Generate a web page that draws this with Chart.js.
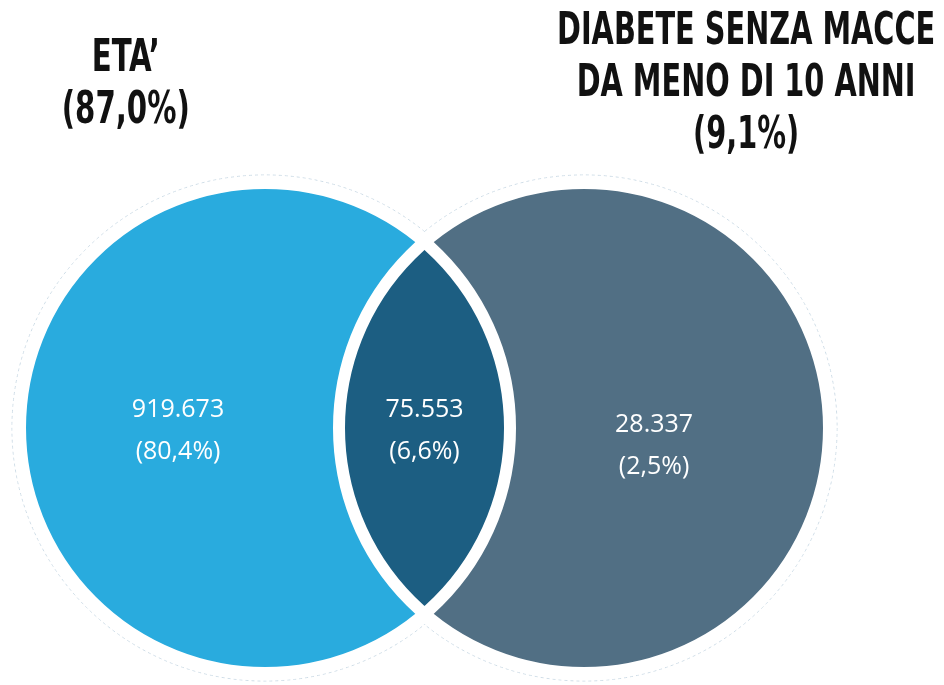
<!DOCTYPE html>
<html>
<head>
<meta charset="utf-8">
<script src="https://cdn.jsdelivr.net/npm/chart.js@4.4.1/dist/chart.umd.min.js"></script>
<style>
  html, body { margin:0; padding:0; background:#fff; }
  #wrap { position:relative; width:944px; height:685px; overflow:hidden; }
  #venn { position:absolute; left:0; top:0; }
  .set-title {
    position:absolute; text-align:center; color:#111;
    font-family:'Liberation Sans Narrow','DejaVu Sans Condensed',sans-serif;
    font-weight:700; font-size:44px; line-height:52px; white-space:nowrap;
    transform-origin:center top;
  }
</style>
</head>
<body>
<div id="wrap">
  <canvas id="venn" width="944" height="685"></canvas>
  <div class="set-title" id="title-0"></div>
  <div class="set-title" id="title-1"></div>
</div>
<script>
// Venn: ETA' vs DIABETE SENZA MACCE DA MENO DI 10 ANNI
const setNames = ["ETA’", "DIABETE SENZA MACCE\nDA MENO DI 10 ANNI"];
const setShares = [87.0, 9.1];
const regionNames = ["solo ETA’", "entrambi", "solo DIABETE"];
const regionCounts = [919673, 75553, 28337];
const regionShares = [80.4, 6.6, 2.5];

// layout (data units, radius = 1)
const CENTERS = [-0.651, 0.651];
const HALO = 1.03;
const OUTLINE = 1.033;
const LABEL_POS = [{x:-1.006, y:-0.012}, {x:0, y:-0.012}, {x:0.937, y:-0.073}];
const SET_COLORS = ['#29abde', '#516f84'];
const LENS_COLOR = '#1c5e82';

const fmtCount = v => v.toLocaleString('it-IT');
const fmtPct = v => '(' + v.toFixed(1).replace('.', ',') + '%)';

function unitPx(chart) {
  const s = chart.scales && chart.scales.x;
  if (!s) return 0;
  const r = s.getPixelForValue(1) - s.getPixelForValue(0);
  return isFinite(r) && r > 0 ? r : 0;
}

const vennPlugin = {
  id: 'venn',
  beforeDatasetsDraw(chart) {
    const {ctx, scales:{x, y}} = chart;
    const u = unitPx(chart);
    ctx.save();
    ctx.strokeStyle = '#cfdde7';
    ctx.lineWidth = 1;
    ctx.setLineDash([3, 3]);
    CENTERS.forEach(c => {
      ctx.beginPath();
      ctx.arc(x.getPixelForValue(c), y.getPixelForValue(0), OUTLINE * u, 0, Math.PI * 2);
      ctx.stroke();
    });
    ctx.setLineDash([]);
    ctx.fillStyle = '#ffffff';
    CENTERS.forEach(c => {
      ctx.beginPath();
      ctx.arc(x.getPixelForValue(c), y.getPixelForValue(0), HALO * u, 0, Math.PI * 2);
      ctx.fill();
    });
    ctx.restore();
  },
  afterDatasetsDraw(chart) {
    const {ctx, scales:{x, y}} = chart;
    const u = unitPx(chart);
    const cy = y.getPixelForValue(0);
    const cx = CENTERS.map(c => x.getPixelForValue(c));
    ctx.save();
    // intersection
    ctx.save();
    ctx.beginPath();
    ctx.arc(cx[0], cy, u, 0, Math.PI * 2);
    ctx.clip();
    ctx.beginPath();
    ctx.arc(cx[1], cy, u, 0, Math.PI * 2);
    ctx.fillStyle = LENS_COLOR;
    ctx.fill();
    ctx.restore();
    // white separators
    ctx.strokeStyle = '#ffffff';
    ctx.lineWidth = 12;
    cx.forEach(px => {
      ctx.beginPath();
      ctx.arc(px, cy, u, 0, Math.PI * 2);
      ctx.stroke();
    });
    // region labels
    ctx.fillStyle = '#ffffff';
    ctx.font = "25px 'Open Sans', sans-serif";
    ctx.textAlign = 'center';
    ctx.textBaseline = 'middle';
    regionCounts.forEach((v, i) => {
      const lx = x.getPixelForValue(LABEL_POS[i].x);
      const ly = y.getPixelForValue(LABEL_POS[i].y);
      ctx.fillText(fmtCount(v), lx, ly - 21);
      ctx.fillText(fmtPct(regionShares[i]), lx, ly + 21);
    });
    ctx.restore();
  }
};

const chart = new Chart(document.getElementById('venn'), {
  type: 'bubble',
  data: {
    datasets: [{
      label: 'Insiemi',
      data: CENTERS.map(c => ({x: c, y: 0})),
      parsing: false,
      backgroundColor: SET_COLORS,
      borderWidth: 0,
      radius: c => unitPx(c.chart),
      hoverRadius: 0,
      clip: false
    }]
  },
  options: {
    responsive: false,
    animation: false,
    events: [],
    layout: { padding: 0 },
    plugins: { legend: { display:false }, tooltip: { enabled:false } },
    scales: {
      x: { type:'linear', display:false, min:-1.7327, max:2.1204 },
      y: { type:'linear', display:false, min:-1.049, max:1.7469 }
    }
  },
  plugins: [vennPlugin]
});

// set titles, squeezed to the reference widths
const TITLE_BOX = [{cx:126, top:30, width:128}, {cx:746, top:3, width:378}];
const measure = document.createElement('canvas').getContext('2d');
measure.font = "bold 44px 'Liberation Sans Narrow', 'DejaVu Sans Condensed', sans-serif";
setNames.forEach((name, i) => {
  const el = document.getElementById('title-' + i);
  const lines = name.split('\n').concat('(' + setShares[i].toFixed(1).replace('.', ',') + '%)');
  el.innerHTML = lines.join('<br>');
  const widest = Math.max(...lines.map(l => measure.measureText(l).width));
  const w = el.offsetWidth;
  el.style.left = (TITLE_BOX[i].cx - w / 2) + 'px';
  el.style.top = TITLE_BOX[i].top + 'px';
  el.style.transform = 'scaleX(' + (TITLE_BOX[i].width / widest).toFixed(3) + ')';
});
</script>
</body>
</html>
